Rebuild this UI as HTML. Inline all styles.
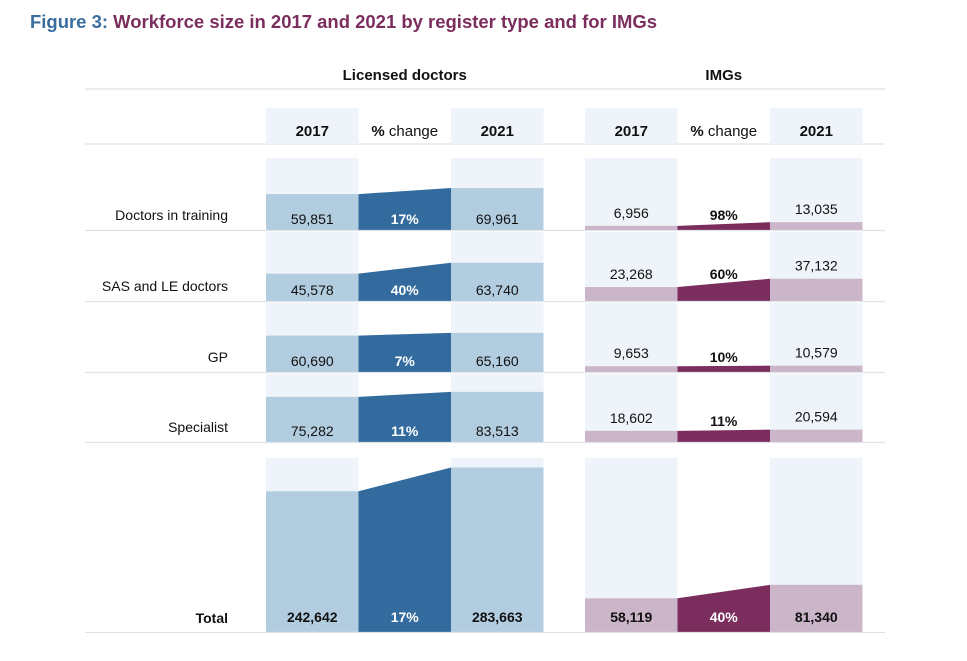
<!DOCTYPE html>
<html><head><meta charset="utf-8"><style>
html,body{margin:0;padding:0;background:#fff;}
svg{display:block;font-family:"Liberation Sans",sans-serif;}
</style></head><body>
<svg id="chart" width="967" height="661" viewBox="0 0 967 661">
<text x="30" y="28" font-size="18" font-weight="bold" textLength="627" lengthAdjust="spacingAndGlyphs"><tspan fill="#3a6e9e">Figure 3</tspan><tspan fill="#3a6e9e">:</tspan><tspan fill="#7b2d5e"> Workforce size in 2017 and 2021 by register type and for IMGs</tspan></text>
</svg>
<script>
const categories = ["Doctors in training","SAS and LE doctors","GP","Specialist","Total"];
const licensed2017 = [59851,45578,60690,75282,242642];
const licensed2021 = [69961,63740,65160,83513,283663];
const licensedChange = ["17%","40%","7%","11%","17%"];
const img2017 = [6956,23268,9653,18602,58119];
const img2021 = [13035,37132,10579,20594,81340];
const imgChange = ["98%","60%","10%","11%","40%"];

const svg = document.getElementById('chart');
const NS = 'http://www.w3.org/2000/svg';
function mk(tag, attrs, parent){ const e=document.createElementNS(NS,tag); for(const k in attrs) e.setAttribute(k,attrs[k]); (parent||svg).appendChild(e); return e; }
function fmt(v){ return v.toLocaleString('en-US'); }

const rows = [{top:158,bot:230},{top:232,bot:301},{top:303,bot:372},{top:374,bot:442},{top:458,bot:632}];
const rowScale = [0.0006,0.0006,0.0006,0.0006,0.00058];
function yScale(v,i){ return rows[i].bot - v*rowScale[i]; }

const panels = [
  {name:'licensed', x:266, title:'Licensed doctors', light:'#b3cde0', dark:'#336b9e', bg:'#eef4f9', a:licensed2017, b:licensed2021, c:licensedChange, inside:true},
  {name:'imgs', x:585, title:'IMGs', light:'#cbb5c9', dark:'#7b2d5e', bg:'#eef4f9', a:img2017, b:img2021, c:imgChange, inside:false}
];
const cw = 92.5;

let l;
l = mk('line',{x1:85,x2:885,y1:89,y2:89,stroke:'#dde3e8','stroke-width':1.2});


l = mk('line',{x1:85,x2:885,y1:144,y2:144,stroke:'#dde3e8','stroke-width':1.2});



panels.forEach(p=>{
  const cx = p.x + cw*1.5;
  let t = mk('text',{x:cx,y:80,'text-anchor':'middle','font-size':15,'font-weight':'bold',fill:'#111'});
  t.textContent = p.title;
  
  
  [0,2].forEach(k=>{
    const r = mk('rect',{x:p.x+k*cw,y:108,width:cw,height:36,fill:p.bg});
    
    
  });
  const hd = [['2017',true],['% change',false],['2021',true]];
  hd.forEach((h,k)=>{
    const tx = mk('text',{x:p.x+k*cw+cw/2,y:136,'text-anchor':'middle','font-size':15,'font-weight':h[1]?'bold':'normal',fill:'#111'});
    if(k===1){ tx.innerHTML='<tspan font-weight="bold">%</tspan> change'; } else tx.textContent=h[0];
    
    
  });
  categories.forEach((cat,i)=>{
    const R = rows[i];
    [0,2].forEach(k=>{
      const bg = mk('rect',{x:p.x+k*cw,y:R.top,width:cw,height:R.bot-R.top,fill:p.bg});
      
      
    });
    const ya = yScale(p.a[i],i), yb = yScale(p.b[i],i);
    const b1 = mk('rect',{x:p.x,y:ya,width:cw,height:R.bot-ya,fill:p.light});
    
    
    const b2 = mk('rect',{x:p.x+2*cw,y:yb,width:cw,height:R.bot-yb,fill:p.light});
    
    
    const poly = mk('polygon',{points:`${p.x+cw},${ya} ${p.x+2*cw},${yb} ${p.x+2*cw},${R.bot} ${p.x+cw},${R.bot}`,fill:p.dark});
    
    
    const total = i===4;
    const base = total ? R.bot - 10 : R.bot - 6;
    const inside = p.inside || total;
    const la = inside ? base : Math.min(base, ya-8);
    const lb = inside ? base : Math.min(base, yb-8);
    const lc = inside ? base : Math.min(base, (ya+yb)/2-4);
    let v1 = mk('text',{x:p.x+cw/2,y:la,'text-anchor':'middle','font-size':14,'font-weight':total?'bold':'normal',fill:'#111'});
    v1.textContent = fmt(p.a[i]);
    
    
    let v2 = mk('text',{x:p.x+2.5*cw,y:lb,'text-anchor':'middle','font-size':14,'font-weight':total?'bold':'normal',fill:'#111'});
    v2.textContent = fmt(p.b[i]);
    
    
    let v3 = mk('text',{x:p.x+1.5*cw,y:lc,'text-anchor':'middle','font-size':14,'font-weight':'bold',fill:inside?'#fff':'#111'});
    v3.textContent = p.c[i];
    
    
  });
});

categories.forEach((cat,i)=>{
  const R = rows[i];
  const total = i===4;
  const t = mk('text',{x:228,y:total?623:(R.bot-10),'text-anchor':'end','font-size':14,'font-weight':total?'bold':'normal',fill:'#111'});
  t.textContent = cat;
  
  
  const ln = mk('line',{x1:85,x2:885,y1:R.bot+0.5,y2:R.bot+0.5,stroke:'#dde3e8','stroke-width':1.2});
  
  
});
</script>
</body></html>
